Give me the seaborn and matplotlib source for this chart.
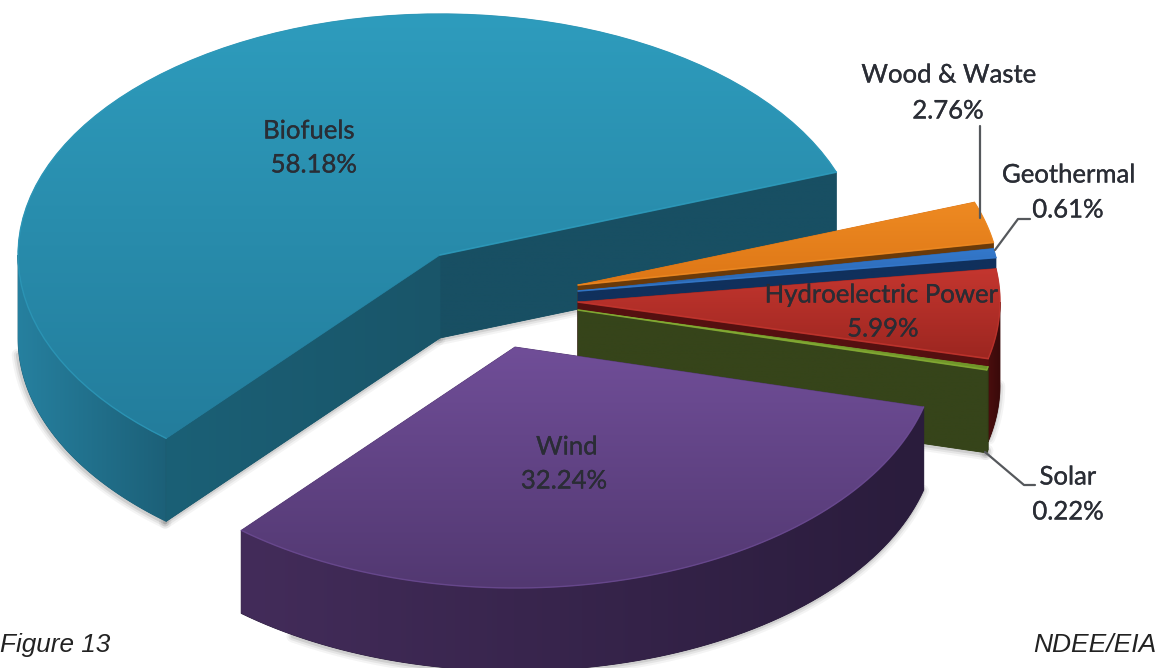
"""Exploded 3D-look pie of renewable energy shares."""

import matplotlib
matplotlib.use("Agg")

import matplotlib.patheffects as pe
import matplotlib.pyplot as plt
import numpy as np
import seaborn as sns
from matplotlib.colors import LinearSegmentedColormap
from matplotlib.patches import Polygon

categories = ["Biofuels", "Wind", "Solar", "Hydroelectric Power", "Geothermal", "Wood & Waste"]
shares = [58.18, 32.24, 0.22, 5.99, 0.61, 2.76]

# styling per slice: top face gradient, cut wall colour, outer wall gradient
top_light = ["#2e9cbd", "#704e98", "#86ad35", "#c4362f", "#3479cc", "#ee8a22"]
top_dark = ["#237d9c", "#523871", "#6f9429", "#9c2620", "#2a64ad", "#dd7616"]
wall_cut = ["#184f63", "#3a2650", "#36441a", "#551010", "#10305c", "#6a3a0a"]
wall_left = ["#26809f", "#432c5a", "#36441a", "#4a0e0e", "#10305c", "#6a3a0a"]
wall_right = ["#1c6078", "#2a1c3c", "#2c3a14", "#3a0a0a", "#10305c", "#6a3a0a"]

# layout: slice apex in pixels and drawing order, back to front
apex = {
    "Biofuels": (440, 255),
    "Wood & Waste": (578, 285),
    "Geothermal": (578, 291),
    "Hydroelectric Power": (578, 302),
    "Solar": (578, 310),
    "Wind": (515, 347),
}
draw_order = ["Biofuels", "Wood & Waste", "Geothermal", "Hydroelectric Power", "Solar", "Wind"]
radius_x, radius_y = 422, 241
depth = 83
start_angle = 20.1

label_pos = {
    "Biofuels": ((309, 131), (314, 165)),
    "Wind": ((567, 447), (564, 481)),
    "Hydroelectric Power": ((882, 295), (883, 329)),
    "Wood & Waste": ((949, 75), (948, 111)),
    "Geothermal": ((1069, 175), (1068, 210)),
    "Solar": ((1068, 477), (1068, 512)),
}
leader_lines = [
    ([980, 980], [126, 218]),
    ([1030, 1018, 995], [219, 219, 250]),
    ([985, 1024, 1035], [452, 485, 485]),
]

sns.set_theme(style="white")
plt.rcParams["font.family"] = ["Lato", "DejaVu Sans"]

fig = plt.figure(figsize=(11.58, 6.68), dpi=100)
ax = fig.add_axes([0, 0, 1, 1])
z_next = 2


def rim(name, a0, a1, n=80):
    cx, cy = apex[name]
    t = np.radians(np.linspace(a0, a1, n))
    return np.column_stack([cx + radius_x * np.cos(t), cy - radius_y * np.sin(t)])


def fill_gradient(points, c0, c1, horizontal=False):
    global z_next
    points = np.asarray(points)
    grid = np.linspace(0, 1, 256).reshape(1, -1) if horizontal else np.linspace(0, 1, 256).reshape(-1, 1)
    cmap = LinearSegmentedColormap.from_list("shade", [c0, c1])
    extent = (points[:, 0].min(), points[:, 0].max(), points[:, 1].max(), points[:, 1].min())
    # thin edge keeps the clipped image from looking jagged
    ax.add_patch(Polygon(points, closed=True, fc=c1, ec=c1, lw=0.6, zorder=z_next))
    im = ax.imshow(grid, cmap=cmap, extent=extent, aspect="auto", origin="upper", zorder=z_next + 0.5)
    im.set_clip_path(Polygon(points, closed=True, transform=ax.transData))
    z_next += 1


def drop_shadow(edge):
    # soft grey line under the bottom edge of a wall
    edge = np.asarray(edge)
    for lw, alpha in [(9, 0.05), (6, 0.08), (3, 0.12)]:
        ax.plot(edge[:, 0] - 1, edge[:, 1] + 1, color="#303030", lw=lw, alpha=alpha,
                solid_capstyle="round", zorder=1)


ends = start_angle + np.cumsum(shares) * 3.6
starts = ends - np.array(shares) * 3.6

for name in draw_order:
    i = categories.index(name)
    a0, a1 = starts[i], ends[i]
    cx, cy = apex[name]
    arc = rim(name, a0, a1)
    down = np.array([0, depth])

    # outer wall, only the part that faces the viewer
    lo, hi = max(a0, 180), min(a1, 360)
    if hi > lo:
        wall = rim(name, lo, hi)
        outer = np.vstack([wall, (wall + down)[::-1]])
        drop_shadow((wall + down)[6:])
        fill_gradient(outer, wall_left[i], wall_right[i], horizontal=True)

    # cut walls
    if name != "Wind":
        p = arc[0]
        cut = [(cx, cy), p, p + down, (cx, cy + depth)]
        if name in ("Biofuels", "Solar"):
            drop_shadow([(cx, cy + depth), p + down])
        fill_gradient(cut, wall_cut[i], wall_cut[i])
    if name == "Biofuels":
        p = arc[-1]
        cut = np.array([(cx, cy), p, p + down, (cx, cy + depth)])
        drop_shadow([(cx, cy + depth), p + down])
        fill_gradient(cut, "#1b6076", "#195569", horizontal=True)

    # top face
    top = np.vstack([[cx, cy], arc])
    fill_gradient(top, top_light[i], top_dark[i])
    ax.plot(arc[:, 0], arc[:, 1], color=top_light[i], lw=1, alpha=0.7, zorder=z_next)
    if name != "Wind":
        ax.plot([cx, arc[0, 0]], [cy, arc[0, 1]], color=top_light[i], lw=1.2, alpha=0.8, zorder=z_next)
    z_next += 1

z_next += 1
for xs, ys in leader_lines:
    ax.plot(xs, ys, color="#55585c", lw=1.6, zorder=z_next)

stroke = [pe.withStroke(linewidth=0.2, foreground="#26282e")]
for name, value in zip(categories, shares):
    (x1, y1), (x2, y2) = label_pos[name]
    ax.text(x1, y1, name, ha="center", va="center", fontsize=18.5, color="#2a2d35",
            path_effects=stroke, zorder=z_next + 1)
    ax.text(x2, y2, f"{value:.2f}%", ha="center", va="center", fontsize=18.5, color="#2a2d35",
            path_effects=stroke, zorder=z_next + 1)

ax.text(0, 645, "Figure 13", ha="left", va="center", fontsize=18.8, style="italic",
        family="Liberation Sans", color="#222222", zorder=z_next + 1)
ax.text(1156, 645, "NDEE/EIA", ha="right", va="center", fontsize=19, style="italic",
        family="Liberation Sans", color="#222222", zorder=z_next + 1)

ax.set_xlim(0, 1158)
ax.set_ylim(668, 0)
ax.axis("off")
fig.savefig("out.png", dpi=100)
plt.close(fig)
